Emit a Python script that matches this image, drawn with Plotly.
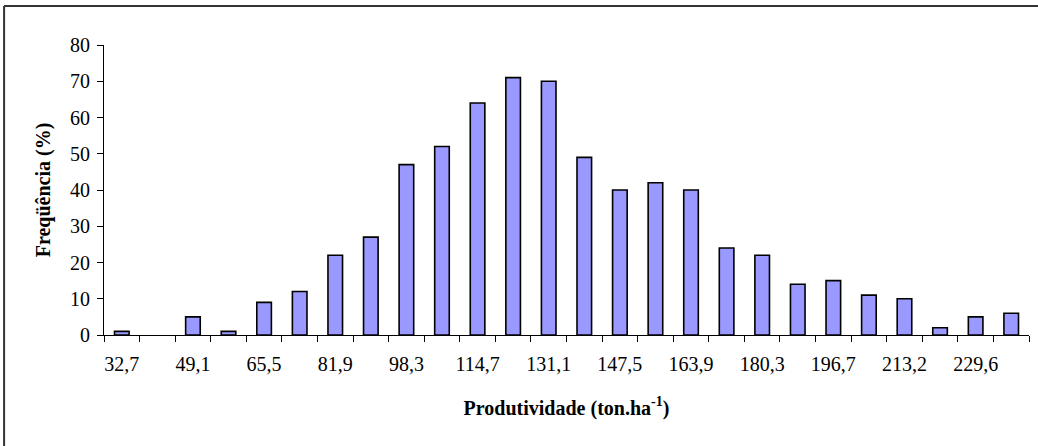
import plotly.graph_objects as go

categorias = ["32,7", "40,9", "49,1", "57,3", "65,5", "73,7", "81,9", "90,1",
              "98,3", "106,5", "114,7", "122,9", "131,1", "139,3", "147,5", "155,7",
              "163,9", "172,1", "180,3", "188,5", "196,7", "204,9", "213,2", "221,4",
              "229,6", "237,8"]
frequencia = [1, 0, 5, 1, 9, 12, 22, 27, 47, 52, 64, 71, 70, 49, 40, 42,
              40, 24, 22, 14, 15, 11, 10, 2, 5, 6]
yticks = [0, 10, 20, 30, 40, 50, 60, 70, 80]

idx = list(range(len(categorias)))
label_idx = idx[::2]
label_txt = [categorias[i] for i in label_idx]
outline = [1.6 if v > 0 else 0 for v in frequencia]

fig = go.Figure(go.Bar(
    x=idx, y=frequencia, width=0.41,
    marker=dict(color="#9999FF", line=dict(color="black", width=outline)),
))

font = "Liberation Serif, Times New Roman, serif"
fig.update_layout(
    width=1038, height=446,
    margin=dict(l=104, r=9, t=45, b=111),
    paper_bgcolor="white", plot_bgcolor="white",
    showlegend=False,
    font=dict(family=font, size=20, color="black"),
    xaxis=dict(
        range=[-0.5, len(categorias) - 0.5],
        tickmode="array", tickvals=label_idx, ticktext=label_txt,
        ticks="", showgrid=False, zeroline=False,
        showline=True, linecolor="black", linewidth=1,
        minor=dict(tick0=-0.5, dtick=1, ticks="outside", ticklen=6,
                   tickcolor="black", tickwidth=1, showgrid=False),
        ticklabelstandoff=11,
        tickfont=dict(family=font, size=20),
        title=dict(text="<b>Produtividade (ton.ha<sup>-1</sup>)</b>",
                   font=dict(family=font, size=20), standoff=26),
    ),
    yaxis=dict(
        range=[0, 80], tickmode="array", tickvals=yticks,
        ticks="outside", ticklen=6, tickcolor="black",
        showgrid=False, zeroline=False,
        showline=True, linecolor="black", linewidth=1,
        ticklabelstandoff=3,
        tickfont=dict(family=font, size=20),
        title=dict(text="<b>Freqüência (%)</b>", font=dict(family=font, size=20), standoff=14),
    ),
    shapes=[
        dict(type="line", xref="paper", yref="paper",
             x0=-0.108, x1=1.2, y0=1.1345, y1=1.1345,
             line=dict(color="#333333", width=2)),
        dict(type="line", xref="paper", yref="paper",
             x0=-0.108, x1=-0.108, y0=1.1345, y1=-0.5,
             line=dict(color="#333333", width=2)),
    ],
)

fig.write_html("out.html", config={"displayModeBar": False},
               post_script="document.body.style.margin='0';")
